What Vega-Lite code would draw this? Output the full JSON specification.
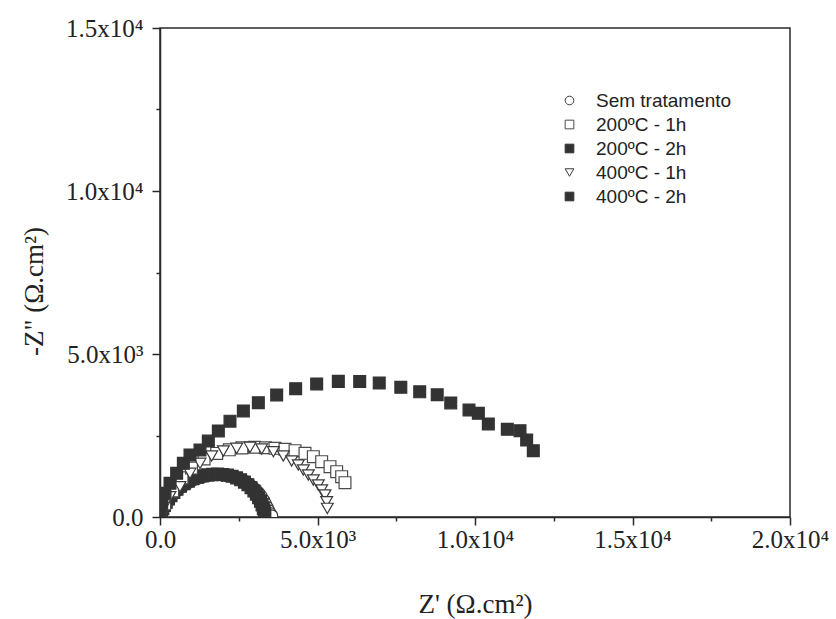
{
  "$schema": "https://vega.github.io/schema/vega-lite/v6.json",
  "autosize": {"type": "none"},
  "width": 630,
  "height": 489,
  "padding": {"left": 160, "top": 28, "right": 46, "bottom": 102},
  "background": "white",
  "config": {
    "view": {"stroke": "#2a2a2a", "strokeWidth": 1.5},
    "axis": {
      "labelFont": "Liberation Serif",
      "titleFont": "Liberation Serif",
      "labelFontSize": 25,
      "titleFontSize": 27,
      "titleFontWeight": "normal",
      "labelColor": "#222",
      "titleColor": "#222",
      "domainColor": "#2a2a2a",
      "domainWidth": 1.5,
      "tickColor": "#2a2a2a",
      "tickWidth": 1.5,
      "grid": false
    }
  },
  "data": {
    "values": [
      {"x": 10, "y": 30, "s": "Sem tratamento"},
      {"x": 40, "y": 110, "s": "Sem tratamento"},
      {"x": 80, "y": 200, "s": "Sem tratamento"},
      {"x": 130, "y": 300, "s": "Sem tratamento"},
      {"x": 190, "y": 400, "s": "Sem tratamento"},
      {"x": 260, "y": 500, "s": "Sem tratamento"},
      {"x": 340, "y": 600, "s": "Sem tratamento"},
      {"x": 430, "y": 700, "s": "Sem tratamento"},
      {"x": 530, "y": 800, "s": "Sem tratamento"},
      {"x": 640, "y": 890, "s": "Sem tratamento"},
      {"x": 760, "y": 975, "s": "Sem tratamento"},
      {"x": 890, "y": 1050, "s": "Sem tratamento"},
      {"x": 1030, "y": 1120, "s": "Sem tratamento"},
      {"x": 1180, "y": 1180, "s": "Sem tratamento"},
      {"x": 1340, "y": 1225, "s": "Sem tratamento"},
      {"x": 1500, "y": 1260, "s": "Sem tratamento"},
      {"x": 1660, "y": 1280, "s": "Sem tratamento"},
      {"x": 1820, "y": 1290, "s": "Sem tratamento"},
      {"x": 1980, "y": 1285, "s": "Sem tratamento"},
      {"x": 2140, "y": 1270, "s": "Sem tratamento"},
      {"x": 2300, "y": 1240, "s": "Sem tratamento"},
      {"x": 2450, "y": 1200, "s": "Sem tratamento"},
      {"x": 2590, "y": 1145, "s": "Sem tratamento"},
      {"x": 2720, "y": 1080, "s": "Sem tratamento"},
      {"x": 2840, "y": 1005, "s": "Sem tratamento"},
      {"x": 2950, "y": 920, "s": "Sem tratamento"},
      {"x": 3050, "y": 830, "s": "Sem tratamento"},
      {"x": 3140, "y": 730, "s": "Sem tratamento"},
      {"x": 3220, "y": 625, "s": "Sem tratamento"},
      {"x": 3290, "y": 515, "s": "Sem tratamento"},
      {"x": 3350, "y": 405, "s": "Sem tratamento"},
      {"x": 3400, "y": 300, "s": "Sem tratamento"},
      {"x": 3450, "y": 200, "s": "Sem tratamento"},
      {"x": 3500, "y": 110, "s": "Sem tratamento"},
      {"x": 3550, "y": 40, "s": "Sem tratamento"},

      {"x": 20, "y": 60, "s": "200ºC - 2h"},
      {"x": 50, "y": 150, "s": "200ºC - 2h"},
      {"x": 90, "y": 250, "s": "200ºC - 2h"},
      {"x": 140, "y": 350, "s": "200ºC - 2h"},
      {"x": 200, "y": 450, "s": "200ºC - 2h"},
      {"x": 270, "y": 550, "s": "200ºC - 2h"},
      {"x": 350, "y": 650, "s": "200ºC - 2h"},
      {"x": 440, "y": 750, "s": "200ºC - 2h"},
      {"x": 540, "y": 850, "s": "200ºC - 2h"},
      {"x": 650, "y": 940, "s": "200ºC - 2h"},
      {"x": 770, "y": 1020, "s": "200ºC - 2h"},
      {"x": 900, "y": 1100, "s": "200ºC - 2h"},
      {"x": 1040, "y": 1170, "s": "200ºC - 2h"},
      {"x": 1190, "y": 1220, "s": "200ºC - 2h"},
      {"x": 1350, "y": 1265, "s": "200ºC - 2h"},
      {"x": 1510, "y": 1295, "s": "200ºC - 2h"},
      {"x": 1670, "y": 1310, "s": "200ºC - 2h"},
      {"x": 1830, "y": 1315, "s": "200ºC - 2h"},
      {"x": 1990, "y": 1305, "s": "200ºC - 2h"},
      {"x": 2140, "y": 1285, "s": "200ºC - 2h"},
      {"x": 2290, "y": 1250, "s": "200ºC - 2h"},
      {"x": 2430, "y": 1200, "s": "200ºC - 2h"},
      {"x": 2560, "y": 1140, "s": "200ºC - 2h"},
      {"x": 2680, "y": 1070, "s": "200ºC - 2h"},
      {"x": 2790, "y": 990, "s": "200ºC - 2h"},
      {"x": 2890, "y": 900, "s": "200ºC - 2h"},
      {"x": 2980, "y": 800, "s": "200ºC - 2h"},
      {"x": 3060, "y": 700, "s": "200ºC - 2h"},
      {"x": 3130, "y": 590, "s": "200ºC - 2h"},
      {"x": 3190, "y": 480, "s": "200ºC - 2h"},
      {"x": 3240, "y": 370, "s": "200ºC - 2h"},
      {"x": 3280, "y": 260, "s": "200ºC - 2h"},
      {"x": 3310, "y": 160, "s": "200ºC - 2h"},
      {"x": 3330, "y": 80, "s": "200ºC - 2h"},

      {"x": 20, "y": 60, "s": "200ºC - 1h"},
      {"x": 150, "y": 400, "s": "200ºC - 1h"},
      {"x": 400, "y": 800, "s": "200ºC - 1h"},
      {"x": 700, "y": 1200, "s": "200ºC - 1h"},
      {"x": 1000, "y": 1500, "s": "200ºC - 1h"},
      {"x": 1400, "y": 1780, "s": "200ºC - 1h"},
      {"x": 1800, "y": 1950, "s": "200ºC - 1h"},
      {"x": 2200, "y": 2060, "s": "200ºC - 1h"},
      {"x": 2600, "y": 2120, "s": "200ºC - 1h"},
      {"x": 3000, "y": 2140, "s": "200ºC - 1h"},
      {"x": 3350, "y": 2125, "s": "200ºC - 1h"},
      {"x": 3651, "y": 2106, "s": "200ºC - 1h"},
      {"x": 3968, "y": 2076, "s": "200ºC - 1h"},
      {"x": 4286, "y": 2035, "s": "200ºC - 1h"},
      {"x": 4603, "y": 1953, "s": "200ºC - 1h"},
      {"x": 4868, "y": 1851, "s": "200ºC - 1h"},
      {"x": 5132, "y": 1697, "s": "200ºC - 1h"},
      {"x": 5397, "y": 1544, "s": "200ºC - 1h"},
      {"x": 5608, "y": 1391, "s": "200ºC - 1h"},
      {"x": 5767, "y": 1237, "s": "200ºC - 1h"},
      {"x": 5873, "y": 1053, "s": "200ºC - 1h"},

      {"x": 10, "y": 40, "s": "400ºC - 1h"},
      {"x": 120, "y": 300, "s": "400ºC - 1h"},
      {"x": 317, "y": 623, "s": "400ºC - 1h"},
      {"x": 635, "y": 930, "s": "400ºC - 1h"},
      {"x": 952, "y": 1340, "s": "400ºC - 1h"},
      {"x": 1270, "y": 1646, "s": "400ºC - 1h"},
      {"x": 1640, "y": 1871, "s": "400ºC - 1h"},
      {"x": 2011, "y": 2025, "s": "400ºC - 1h"},
      {"x": 2434, "y": 2106, "s": "400ºC - 1h"},
      {"x": 2857, "y": 2137, "s": "400ºC - 1h"},
      {"x": 3228, "y": 2086, "s": "400ºC - 1h"},
      {"x": 3598, "y": 2004, "s": "400ºC - 1h"},
      {"x": 3915, "y": 1871, "s": "400ºC - 1h"},
      {"x": 4180, "y": 1718, "s": "400ºC - 1h"},
      {"x": 4392, "y": 1595, "s": "400ºC - 1h"},
      {"x": 4550, "y": 1442, "s": "400ºC - 1h"},
      {"x": 4709, "y": 1288, "s": "400ºC - 1h"},
      {"x": 4868, "y": 1135, "s": "400ºC - 1h"},
      {"x": 5026, "y": 982, "s": "400ºC - 1h"},
      {"x": 5132, "y": 828, "s": "400ºC - 1h"},
      {"x": 5238, "y": 675, "s": "400ºC - 1h"},
      {"x": 5291, "y": 469, "s": "400ºC - 1h"},
      {"x": 5312, "y": 265, "s": "400ºC - 1h"},

      {"x": 0, "y": 120, "s": "400ºC - 2h"},
      {"x": 53, "y": 420, "s": "400ºC - 2h"},
      {"x": 159, "y": 727, "s": "400ºC - 2h"},
      {"x": 317, "y": 1033, "s": "400ºC - 2h"},
      {"x": 529, "y": 1340, "s": "400ºC - 2h"},
      {"x": 741, "y": 1646, "s": "400ºC - 2h"},
      {"x": 952, "y": 1902, "s": "400ºC - 2h"},
      {"x": 1270, "y": 2055, "s": "400ºC - 2h"},
      {"x": 1534, "y": 2330, "s": "400ºC - 2h"},
      {"x": 1852, "y": 2640, "s": "400ºC - 2h"},
      {"x": 2222, "y": 2940, "s": "400ºC - 2h"},
      {"x": 2646, "y": 3252, "s": "400ºC - 2h"},
      {"x": 3122, "y": 3507, "s": "400ºC - 2h"},
      {"x": 3704, "y": 3742, "s": "400ºC - 2h"},
      {"x": 4307, "y": 3937, "s": "400ºC - 2h"},
      {"x": 4974, "y": 4080, "s": "400ºC - 2h"},
      {"x": 5661, "y": 4160, "s": "400ºC - 2h"},
      {"x": 6340, "y": 4155, "s": "400ºC - 2h"},
      {"x": 6960, "y": 4110, "s": "400ºC - 2h"},
      {"x": 7645, "y": 3978, "s": "400ºC - 2h"},
      {"x": 8245, "y": 3840, "s": "400ºC - 2h"},
      {"x": 8800, "y": 3750, "s": "400ºC - 2h"},
      {"x": 9230, "y": 3500, "s": "400ºC - 2h"},
      {"x": 9810, "y": 3282, "s": "400ºC - 2h"},
      {"x": 10106, "y": 3180, "s": "400ºC - 2h"},
      {"x": 10423, "y": 2853, "s": "400ºC - 2h"},
      {"x": 11026, "y": 2690, "s": "400ºC - 2h"},
      {"x": 11429, "y": 2648, "s": "400ºC - 2h"},
      {"x": 11640, "y": 2362, "s": "400ºC - 2h"},
      {"x": 11851, "y": 2034, "s": "400ºC - 2h"}
    ]
  },
  "mark": {"type": "point", "filled": true, "opacity": 1, "size": 140, "strokeWidth": 1.2, "clip": true},
  "encoding": {
    "x": {
      "field": "x",
      "type": "quantitative",
      "scale": {"domain": [0, 20000], "nice": false, "zero": false},
      "axis": {
        "title": "Z' (Ω.cm²)",
        "values": [0, 2500, 5000, 7500, 10000, 12500, 15000, 17500, 20000],
        "labelExpr": "datum.value == 0 ? '0.0' : datum.value == 5000 ? '5.0x10³' : datum.value == 10000 ? '1.0x10⁴' : datum.value == 15000 ? '1.5x10⁴' : datum.value == 20000 ? '2.0x10⁴' : ''",
        "tickSize": {"condition": {"test": "datum.value % 5000 == 0", "value": 8}, "value": 4},
        "labelPadding": 2,
        "labelFlush": false,
        "labelOverlap": false,
        "titleX": 315,
        "titleY": 95,
        "titleBaseline": "alphabetic",
        "titleAlign": "center"
      }
    },
    "y": {
      "field": "y",
      "type": "quantitative",
      "scale": {"domain": [0, 15000], "nice": false, "zero": false},
      "axis": {
        "title": "-Z\" (Ω.cm²)",
        "values": [0, 2500, 5000, 7500, 10000, 12500, 15000],
        "labelExpr": "datum.value == 0 ? '0.0' : datum.value == 5000 ? '5.0x10³' : datum.value == 10000 ? '1.0x10⁴' : datum.value == 15000 ? '1.5x10⁴' : ''",
        "tickSize": {"condition": {"test": "datum.value % 5000 == 0", "value": 8}, "value": 4},
        "labelPadding": 9,
        "labelFlush": false,
        "labelOverlap": false,
        "titleX": -118,
        "titleY": 263,
        "titleAngle": -90,
        "titleBaseline": "alphabetic",
        "titleAlign": "center"
      }
    },
    "shape": {
      "field": "s",
      "type": "nominal",
      "scale": {
        "domain": ["Sem tratamento", "200ºC - 1h", "200ºC - 2h", "400ºC - 1h", "400ºC - 2h"],
        "range": ["circle", "square", "square", "triangle-down", "square"]
      },
      "legend": {
        "orient": "none",
        "legendX": 400,
        "legendY": 63,
        "title": null,
        "padding": 0,
        "symbolSize": 75,
        "symbolStrokeWidth": 1,
        "labelFont": "Liberation Sans",
        "labelFontSize": 19,
        "labelColor": "#222",
        "labelOffset": 17,
        "rowPadding": 4
      }
    },
    "fill": {
      "field": "s",
      "type": "nominal",
      "scale": {
        "domain": ["Sem tratamento", "200ºC - 1h", "200ºC - 2h", "400ºC - 1h", "400ºC - 2h"],
        "range": ["white", "white", "#333333", "white", "#333333"]
      },
      "legend": null
    },
    "stroke": {
      "field": "s",
      "type": "nominal",
      "scale": {
        "domain": ["Sem tratamento", "200ºC - 1h", "200ºC - 2h", "400ºC - 1h", "400ºC - 2h"],
        "range": ["#3a3a3a", "#4a4a4a", "#333333", "#3a3a3a", "#333333"]
      },
      "legend": null
    }
  }
}
